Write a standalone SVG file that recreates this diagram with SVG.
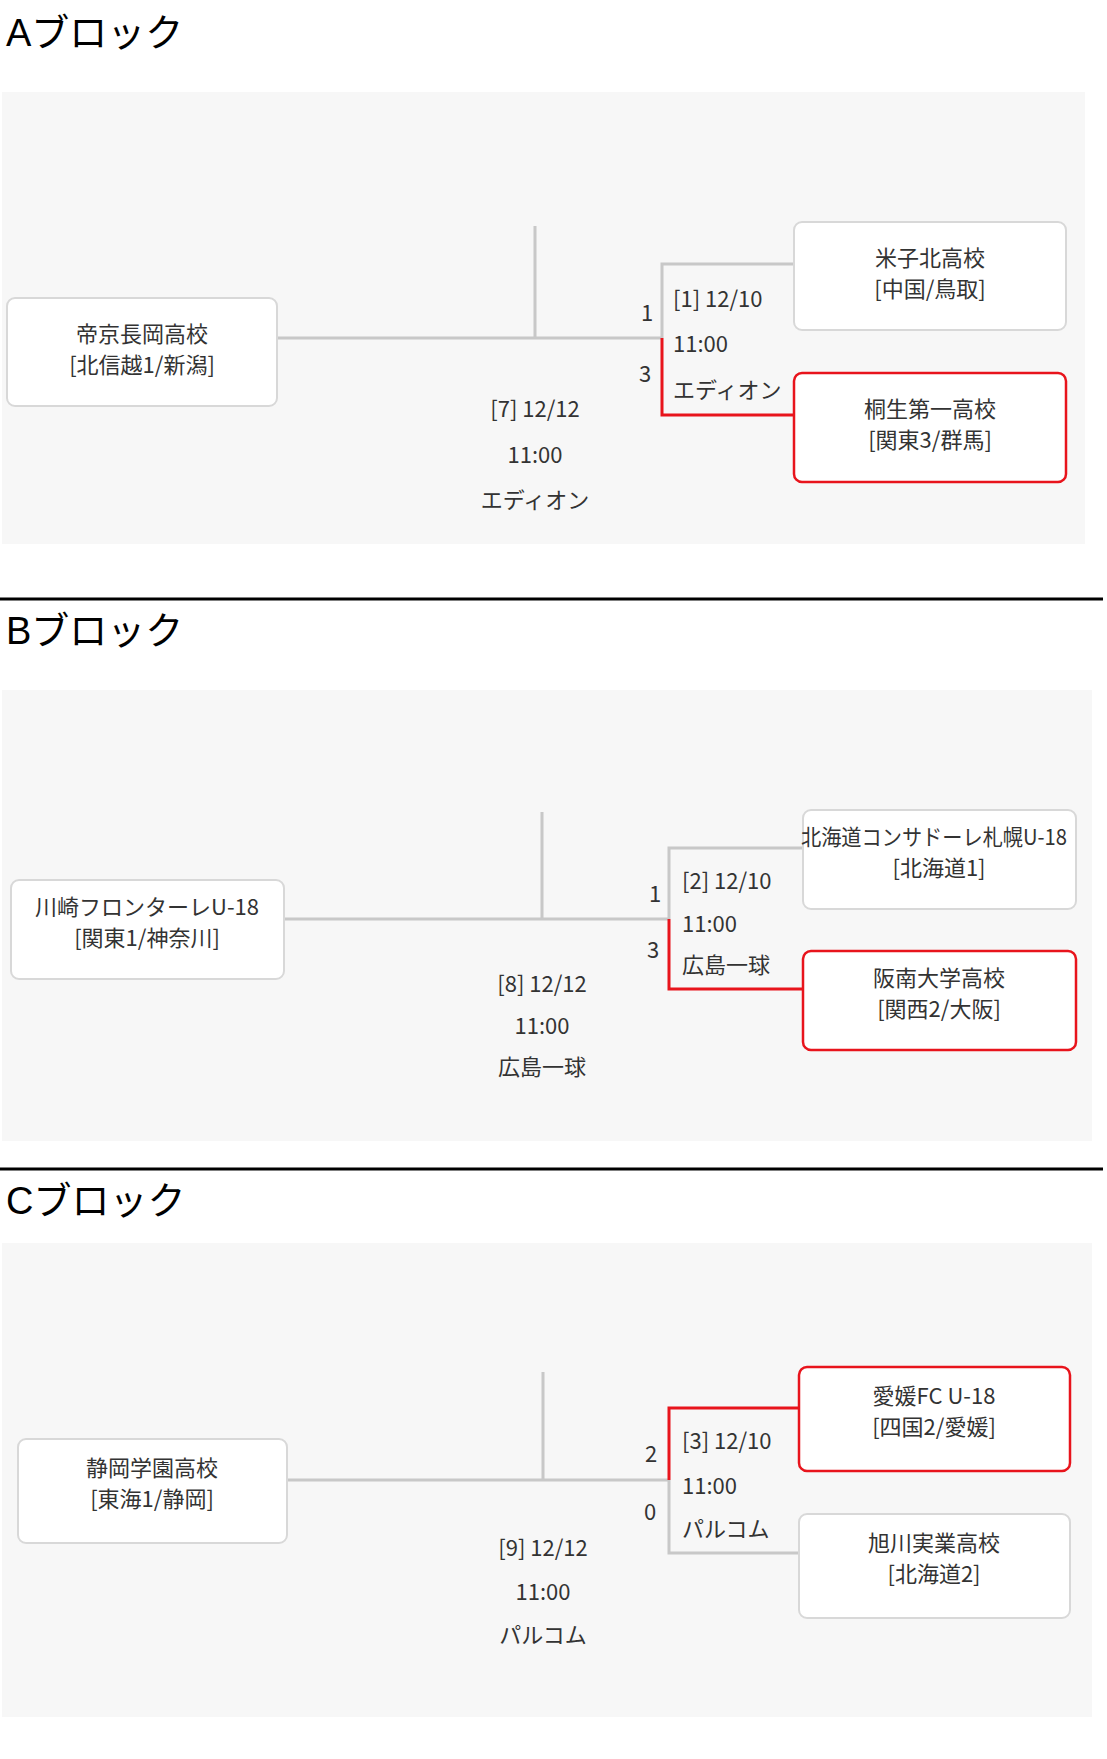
<svg xmlns="http://www.w3.org/2000/svg" width="1107" height="1759" viewBox="0 0 1107 1759">
<style>
.t{font-family:"Liberation Sans","Noto Sans CJK JP",sans-serif;font-size:38px;fill:#000}
.panel{fill:#f7f7f7}
.box{fill:#fff;stroke:#d8d8d8;stroke-width:2}
.win{fill:#fff;stroke:#e8141c;stroke-width:2.5}
.n{font-family:"Noto Sans CJK JP",sans-serif;font-size:22px;fill:#333;text-anchor:middle}
.l{font-family:"Noto Sans CJK JP",sans-serif;font-size:22px;fill:#333}
.g{stroke:#c8c8c8;stroke-width:3;fill:none}
.r{stroke:#e8141c;stroke-width:3;fill:none}
.sep{stroke:#000;stroke-width:3}
</style>
<rect width="1107" height="1759" fill="#fff"/>
<text class="t" x="6" y="46">Aブロック</text>
<rect class="panel" x="2" y="92" width="1083" height="452"/>
<line class="sep" x1="0" y1="599" x2="1103" y2="599"/>
<text class="t" x="6" y="644">Bブロック</text>
<rect class="panel" x="2" y="690" width="1090" height="451"/>
<line class="sep" x1="0" y1="1169" x2="1103" y2="1169"/>
<text class="t" x="6" y="1214">Cブロック</text>
<rect class="panel" x="2" y="1243" width="1090" height="474"/>
<g id="connectors">
<path class="g" d="M277 338H662M535 226V338M662 338V264H794"/>
<path class="r" d="M662 338V415H794"/>
<path class="g" d="M284 919H669M542 812V919M669 919V848H803"/>
<path class="r" d="M669 919V989H803"/>
<path class="g" d="M287 1480H669M543 1372V1480M669 1480V1553H799"/>
<path class="r" d="M669 1480V1408H799"/>
</g>
<g id="a-left"><rect class="box" x="7" y="298" width="270" height="108" rx="8"/><text class="n" x="142" y="342">帝京長岡高校</text><text class="n" x="142" y="373">[北信越1/新潟]</text></g>
<g id="a-top"><rect class="box" x="794" y="222" width="272" height="108" rx="8"/><text class="n" x="930" y="266">米子北高校</text><text class="n" x="930" y="297">[中国/鳥取]</text></g>
<g id="a-bot"><rect class="win" x="794" y="373" width="272" height="109" rx="8"/><text class="n" x="930" y="417">桐生第一高校</text><text class="n" x="930" y="448">[関東3/群馬]</text></g>
<g id="a-labels"><text class="l" x="641" y="321">1</text><text class="l" x="639" y="382">3</text>
<text class="l" x="673" y="307">[1] 12/10</text><text class="l" x="673" y="352">11:00</text><text class="l" x="673" y="398">エディオン</text>
<text class="n" x="535" y="417">[7] 12/12</text><text class="n" x="535" y="463">11:00</text><text class="n" x="535" y="508">エディオン</text></g>
<g id="b-left"><rect class="box" x="11" y="880" width="273" height="99" rx="8"/><text class="n" x="147" y="915">川崎フロンターレU-18</text><text class="n" x="147" y="946">[関東1/神奈川]</text></g>
<g id="b-top"><rect class="box" x="803" y="810" width="273" height="99" rx="8"/><text class="n" x="934" y="845" textLength="266" lengthAdjust="spacingAndGlyphs">北海道コンサドーレ札幌U-18</text><text class="n" x="939" y="876">[北海道1]</text></g>
<g id="b-bot"><rect class="win" x="803" y="951" width="273" height="99" rx="8"/><text class="n" x="939" y="986">阪南大学高校</text><text class="n" x="939" y="1017">[関西2/大阪]</text></g>
<g id="b-labels"><text class="l" x="649" y="902">1</text><text class="l" x="647" y="958">3</text>
<text class="l" x="682" y="889">[2] 12/10</text><text class="l" x="682" y="932">11:00</text><text class="l" x="682" y="973">広島一球</text>
<text class="n" x="542" y="992">[8] 12/12</text><text class="n" x="542" y="1034">11:00</text><text class="n" x="542" y="1075">広島一球</text></g>
<g id="c-left"><rect class="box" x="18" y="1439" width="269" height="104" rx="8"/><text class="n" x="152" y="1476">静岡学園高校</text><text class="n" x="152" y="1507">[東海1/静岡]</text></g>
<g id="c-top"><rect class="win" x="799" y="1367" width="271" height="104" rx="8"/><text class="n" x="934" y="1404">愛媛FC U-18</text><text class="n" x="934" y="1435">[四国2/愛媛]</text></g>
<g id="c-bot"><rect class="box" x="799" y="1514" width="271" height="104" rx="8"/><text class="n" x="934" y="1551">旭川実業高校</text><text class="n" x="934" y="1582">[北海道2]</text></g>
<g id="c-labels"><text class="l" x="645" y="1462">2</text><text class="l" x="644" y="1520">0</text>
<text class="l" x="682" y="1449">[3] 12/10</text><text class="l" x="682" y="1494">11:00</text><text class="l" x="682" y="1537">パルコム</text>
<text class="n" x="543" y="1556">[9] 12/12</text><text class="n" x="543" y="1600">11:00</text><text class="n" x="543" y="1643">パルコム</text></g>
</svg>
